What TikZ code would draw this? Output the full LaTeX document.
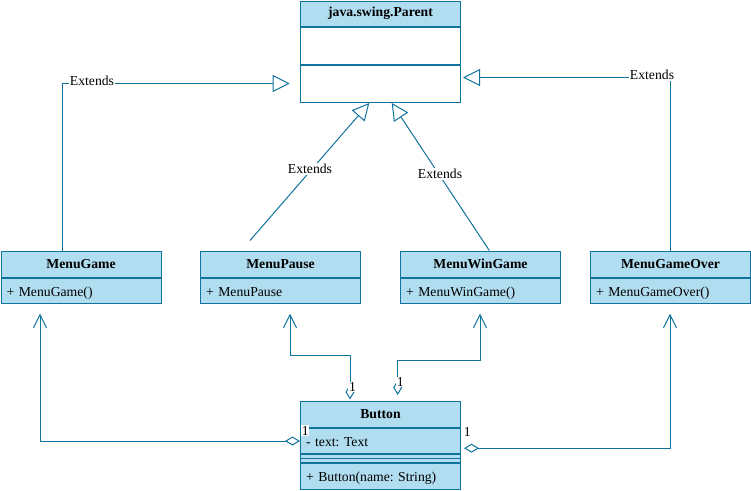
\documentclass[tikz,border=0pt]{standalone}
\usepackage{fontspec}
\setmainfont{Liberation Serif}
\usetikzlibrary{arrows.meta,calc}
\definecolor{umlstroke}{HTML}{10739E}
\definecolor{umlfill}{HTML}{B1DDF0}
\frenchspacing
\begin{document}
\begin{tikzpicture}[x=1pt,y=-1pt, font=\fontsize{13.7}{16}\selectfont]
\tikzset{
  hdr/.style={draw=umlstroke, line width=1pt, fill=umlfill, anchor=north west,
    minimum width=160pt, minimum height=#1, inner sep=0pt,
    font=\fontsize{13.7}{16}\selectfont\bfseries},
  hdr/.default=26pt,
  mbr/.style={draw=umlstroke, line width=1pt, fill=umlfill, anchor=north west,
    minimum height=#1, text width=149pt, inner xsep=5.5pt, inner ysep=0pt, align=left,
    text height=12.5pt, text depth=2.5pt},
  mbr/.default=25pt,
  ext/.style={draw=umlstroke, line width=1pt, -{Triangle[open, length=17pt, width=17pt, line width=1pt]}},
  agg/.style={draw=umlstroke, line width=1pt,
    {Diamond[open, length=15pt, width=9pt, line width=1pt]}-{Straight Barb[length=13pt, width=13pt, line width=1pt]}},
  lbl/.style={fill=white, inner sep=1pt},
  mult/.style={fill=white, inner sep=0.6pt}
}
\useasboundingbox (0,0) rectangle (751,490);

% java.swing.Parent
\node[hdr=25.5pt] (parentH) at (300,0.5) {java.swing.Parent};
\node[mbr=37pt, fill=white] (parentA) at (parentH.south west) {};
\node[mbr=37pt, fill=white] (parentM) at (parentA.south west) {};

% Menu classes
\node[hdr=26.5pt] (mgH) at (0.5,250.5) {MenuGame};
\node[mbr] (mgM) at (mgH.south west) {+ MenuGame()};
\node[hdr=26.5pt] (mpH) at (200,250.5) {MenuPause};
\node[mbr] (mpM) at (mpH.south west) {+ MenuPause};
\node[hdr=26.5pt] (mwH) at (400,250.5) {MenuWinGame};
\node[mbr] (mwM) at (mwH.south west) {+ MenuWinGame()};
\node[hdr=26.5pt] (moH) at (590,250.5) {MenuGameOver};
\node[mbr] (moM) at (moH.south west) {+ MenuGameOver()};

% Button
\node[hdr=26.2pt] (btnH) at (300,400.5) {Button};
\node[mbr=25.6pt] (btnA) at (btnH.south west) {- text: Text};
\node[mbr=7.7pt, text height=0pt, text depth=0pt] (btnS) at (btnA.south west) {};
\draw[umlstroke, line width=1pt] (btnS.west) -- (btnS.east);
\node[mbr=26pt] (btnO) at (btnS.south west) {+ Button(name: String)};

% Extends connectors
\coordinate (e1s) at ($(mgH.north west)+(61.5,0)$);
\coordinate (e1e) at ($(parentM.west)+(-10.3,-0.5)$);
\draw[ext] (e1s) |- (e1e);
\node[lbl] (e1l) at (92,80.5) {Extends};

\coordinate (e4s) at ($(moH.north west)+(80,0)$);
\coordinate (e4e) at ($(parentM.east)+(2,-6.5)$);
\draw[ext] (e4s) |- (e4e);
\node[lbl] (e4l) at (652,75) {Extends};

\coordinate (e2s) at ($(mpH.north west)+(50,-10)$);
\coordinate (e2e) at ($(parentM.south west)+(69.3,0)$);
\draw[ext] (e2s) -- (e2e);
\node[lbl] (e2l) at (310,169) {Extends};

\coordinate (e3s) at ($(mwH.north west)+(89.3,0)$);
\coordinate (e3e) at ($(parentM.south west)+(91.7,0)$);
\draw[ext] (e3s) -- (e3e);
\node[lbl] (e3l) at (440,174) {Extends};

% Aggregation connectors
\coordinate (a1e) at ($(mgM.south west)+(39.5,9.7)$);
\draw[agg] (btnA.west) -| (a1e);
\node[mult] (a1l) at (305.3,430.5) {1};

\coordinate (a4s) at ($(btnA.east)+(3,7.2)$);
\coordinate (a4e) at ($(moM.south west)+(80,9.7)$);
\draw[agg] (a4s) -| (a4e);
\node[mult] (a4l) at (467.3,432.3) {1};

\coordinate (a2s) at ($(btnH.north west)+(50,-1)$);
\coordinate (a2e) at ($(mpM.south west)+(90,9.7)$);
\draw[agg] (a2s) -- ++(0,-44.5) -| (a2e);
\node[mult] (a2l) at (352.5,387.3) {1};

\coordinate (a3s) at ($(btnH.north west)+(97.7,-5.5)$);
\coordinate (a3e) at ($(mwM.south west)+(80,9.7)$);
\draw[agg] (a3s) -- ++(0,-34.3) -| (a3e);
\node[mult] (a3l) at (400.3,382.3) {1};
\end{tikzpicture}
\end{document}
